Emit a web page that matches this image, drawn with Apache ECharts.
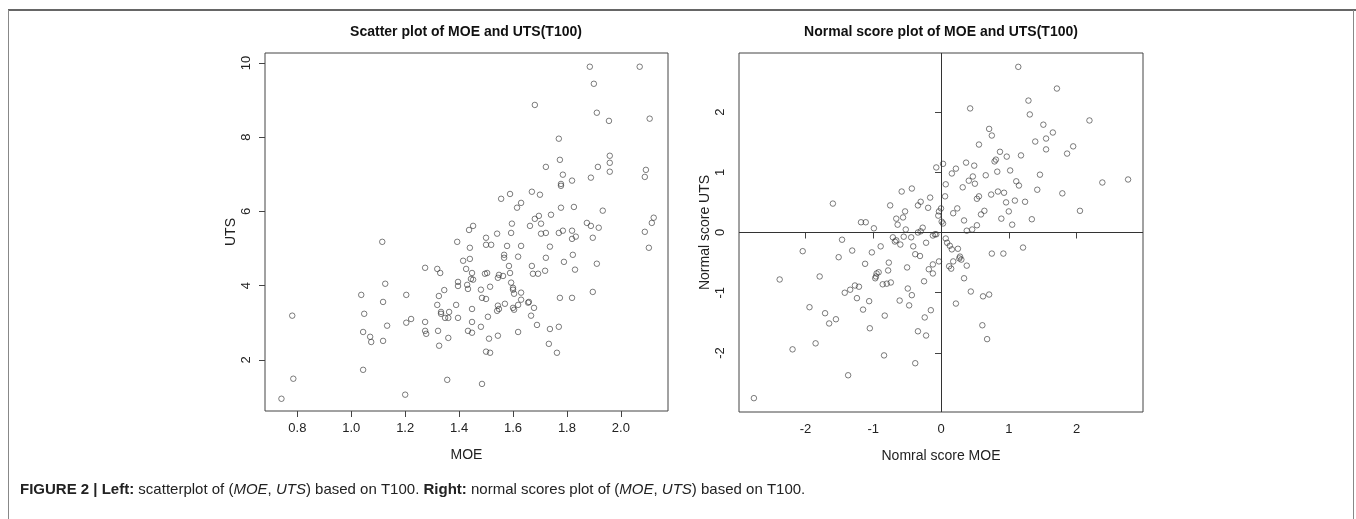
<!DOCTYPE html>
<html>
<head>
<meta charset="utf-8">
<script src="https://cdn.jsdelivr.net/npm/echarts@6/dist/echarts.min.js"></script>
<style>
html,body{margin:0;padding:0;background:#fff;}
#c{width:1356px;height:519px;}
</style>
</head>
<body>
<div id="c"></div>
<script>
// Left panel: scatter of MOE vs UTS (T100)
const scatterPoints = [
[1.115,5.18],[1.393,5.18],[1.274,4.48],[1.319,4.45],[1.33,4.34],[1.396,4.10],[1.396,3.99],[1.126,4.05],[1.037,3.75],[1.204,3.75],[1.118,3.56],[1.345,3.88],[1.325,3.72],[1.319,3.48],[1.389,3.48],[1.363,3.29],[1.333,3.29],[1.333,3.24],[1.348,3.13],[1.36,3.13],[1.396,3.13],[1.048,3.24],[0.781,3.19],[1.222,3.10],[1.204,3.00],[1.274,3.02],[1.133,2.92],[1.044,2.75],[1.274,2.78],[1.278,2.70],[1.322,2.78],[1.07,2.62],[1.074,2.48],[1.118,2.51],[1.36,2.59],[1.326,2.38],[1.044,1.73],[0.785,1.49],[1.356,1.46],[1.2,1.06],[0.741,0.95],
[1.885,9.90],[2.07,9.90],[1.9,9.44],[1.681,8.87],[1.911,8.66],[1.956,8.44],[2.107,8.50],[1.77,7.96],[1.774,7.39],[1.959,7.50],[1.959,7.31],[1.722,7.20],[1.915,7.20],[1.959,7.07],[2.093,7.12],[2.089,6.93],[1.785,6.99],[1.819,6.83],[1.889,6.91],[1.778,6.74],[1.778,6.69],[1.67,6.53],[1.70,6.45],[1.589,6.47],[1.556,6.34],[1.63,6.23],[1.615,6.10],[1.778,6.10],[1.826,6.12],[1.933,6.02],[1.741,5.91],[1.696,5.88],[1.681,5.80],[1.596,5.67],[1.663,5.61],[1.704,5.67],[1.874,5.69],[1.889,5.61],[1.918,5.56],[2.122,5.83],[2.115,5.69],[1.437,5.50],[1.452,5.61],[1.541,5.40],[1.593,5.42],[1.704,5.40],[1.722,5.42],[1.77,5.42],[1.785,5.48],[1.819,5.48],[1.833,5.32],[1.819,5.26],[1.5,5.29],[1.5,5.10],[1.519,5.10],[1.44,5.02],[1.578,5.07],[1.63,5.07],[1.737,5.05],[1.896,5.29],[2.089,5.45],[2.104,5.02],
[1.415,4.67],[1.44,4.72],[1.567,4.83],[1.567,4.75],[1.619,4.78],[1.722,4.75],[1.789,4.64],[1.822,4.83],[1.911,4.59],[1.426,4.45],[1.585,4.53],[1.67,4.53],[1.719,4.40],[1.83,4.43],[1.448,4.34],[1.496,4.32],[1.504,4.34],[1.548,4.29],[1.563,4.26],[1.589,4.34],[1.674,4.32],[1.693,4.32],[1.544,4.21],[1.444,4.18],[1.452,4.16],[1.43,4.02],[1.433,3.91],[1.481,3.89],[1.515,3.97],[1.593,4.08],[1.60,3.94],[1.60,3.89],[1.63,3.81],[1.604,3.78],[1.896,3.83],[1.774,3.67],[1.819,3.67],[1.485,3.67],[1.50,3.64],[1.448,3.37],[1.544,3.46],[1.548,3.37],[1.541,3.32],[1.57,3.51],[1.60,3.40],[1.604,3.35],[1.619,3.48],[1.63,3.62],[1.656,3.54],[1.659,3.56],[1.678,3.40],[1.507,3.16],[1.667,3.19],[1.448,3.02],[1.481,2.89],[1.689,2.94],[1.737,2.83],[1.77,2.89],[1.433,2.78],[1.448,2.73],[1.544,2.65],[1.619,2.75],[1.511,2.57],[1.733,2.43],[1.50,2.22],[1.515,2.19],[1.763,2.19],[1.485,1.35]
];
// Right panel: normal scores of MOE vs UTS
const normalPoints = [
[-1.595,0.48],[-1.18,0.17],[-1.11,0.17],[-0.99,0.07],[-0.75,0.45],[-0.58,0.68],[-0.43,0.73],[-0.66,0.23],[-0.56,0.25],[-0.53,0.35],[-0.64,0.13],[-0.52,0.05],[-0.34,0.45],[-0.30,0.51],[-0.16,0.58],[-0.19,0.41],[-0.07,1.08],[-0.04,0.28],[-0.03,0.35],[-0.34,0.0],[-0.30,0.02],[-0.27,0.08],[-0.12,-0.05],[-0.07,-0.03],
[-1.46,-0.12],[-0.71,-0.08],[-0.66,-0.13],[-0.68,-0.15],[-0.60,-0.20],[-0.55,-0.07],[-0.44,-0.08],[-0.41,-0.23],[-0.22,-0.17],[-2.04,-0.31],[-1.31,-0.30],[-1.02,-0.33],[-0.89,-0.23],[-1.51,-0.41],[-0.38,-0.36],[-0.31,-0.39],[-1.12,-0.52],[-0.77,-0.50],[-0.03,-0.48],[-0.12,-0.53],[-0.18,-0.61],[-0.12,-0.68],[-0.50,-0.58],[-0.78,-0.63],[-0.92,-0.66],[-0.95,-0.68],[-0.96,-0.73],[-0.97,-0.76],[-2.38,-0.78],[-1.79,-0.73],[-0.86,-0.86],[-0.80,-0.85],[-0.74,-0.83],[-0.25,-0.81],[-1.27,-0.88],[-1.21,-0.90],[-1.34,-0.95],[-1.42,-1.00],[-0.49,-0.93],[-0.43,-1.04],[-1.24,-1.09],[-1.06,-1.14],[-0.61,-1.13],[-0.47,-1.21],[-1.94,-1.24],[-1.15,-1.28],[-0.15,-1.29],[-1.71,-1.34],[-0.83,-1.38],[-0.24,-1.41],[-1.55,-1.44],[-1.65,-1.51],[-1.05,-1.59],[-0.34,-1.64],[-0.22,-1.71],[-1.85,-1.84],[-2.19,-1.94],[-0.84,-2.04],[-0.38,-2.17],[-1.37,-2.37],[-2.76,-2.75],
[1.14,2.75],[1.71,2.39],[1.29,2.19],[0.43,2.06],[1.31,1.96],[2.19,1.86],[1.51,1.79],[0.71,1.72],[0.75,1.61],[1.55,1.56],[1.65,1.66],[1.39,1.51],[0.56,1.46],[1.55,1.38],[1.95,1.43],[1.86,1.31],[1.18,1.28],[0.87,1.34],[0.97,1.26],[0.81,1.21],[0.79,1.18],[0.37,1.16],[0.49,1.11],[0.03,1.14],[0.22,1.06],[0.16,0.98],[1.02,1.03],[0.83,1.01],[0.66,0.95],[0.47,0.93],[0.41,0.86],[1.46,0.96],[1.11,0.85],[1.15,0.78],[0.50,0.81],[0.07,0.80],[0.32,0.75],[2.38,0.83],[2.76,0.88],[1.42,0.71],[0.84,0.68],[0.93,0.66],[0.74,0.63],[1.79,0.65],[0.56,0.60],[0.53,0.56],[0.06,0.60],[1.09,0.53],[1.24,0.51],[0.96,0.50],[0.0,0.40],[0.24,0.40],[0.18,0.32],[0.64,0.36],[0.59,0.30],[1.0,0.35],[0.89,0.23],[1.05,0.13],[1.34,0.22],[2.05,0.36],[0.34,0.20],[0.01,0.18],[0.03,0.15],[0.53,0.12],[0.46,0.05],[0.38,0.03],[-0.09,-0.03],[0.07,-0.10],
[0.09,-0.17],[0.13,-0.22],[0.16,-0.28],[0.25,-0.27],[0.75,-0.35],[0.92,-0.35],[1.21,-0.25],[0.18,-0.48],[0.28,-0.40],[0.30,-0.45],[0.27,-0.43],[0.12,-0.56],[0.15,-0.60],[0.38,-0.55],[0.34,-0.76],[0.44,-0.98],[0.62,-1.06],[0.71,-1.03],[0.22,-1.18],[0.61,-1.54],[0.68,-1.77]
];
const moeTicks = [0.8, 1.0, 1.2, 1.4, 1.6, 1.8, 2.0];
const utsTicks = [2, 4, 6, 8, 10];
const nsTicks = [-2, -1, 0, 1, 2];

const FONT = 'Liberation Sans, Arial, sans-serif';
const chart = echarts.init(document.getElementById('c'), null, {renderer: 'canvas'});

function axisCommon(ticks, fmt, isY) {
  return {
    type: 'value',
    axisLine: {show: false},
    splitLine: {show: false},
    axisTick: {show: true, inside: false, length: 6, customValues: ticks, lineStyle: {color: '#444', width: 1}},
    axisLabel: {show: true, customValues: ticks, formatter: fmt, color: '#222', fontSize: 13, fontFamily: FONT,
      margin: isY ? 12 : 11, rotate: isY ? 90 : 0},
    nameLocation: 'middle',
    nameTextStyle: {color: '#222', fontSize: 14, fontFamily: FONT}
  };
}

const pointStyle = {color: 'rgba(0,0,0,0)', borderColor: '#333', borderWidth: 0.8};

chart.setOption({
  animation: false,
  grid: [
    {left: 265, top: 53, width: 403, height: 358, show: true, borderColor: '#444', borderWidth: 1, backgroundColor: 'transparent'},
    {left: 739, top: 53, width: 404, height: 359, show: true, borderColor: '#444', borderWidth: 1, backgroundColor: 'transparent'}
  ],
  xAxis: [
    Object.assign(axisCommon(moeTicks, v => Number(v).toFixed(1), false), {gridIndex: 0, min: 0.68, max: 2.175, name: 'MOE', nameGap: 37}),
    Object.assign(axisCommon(nsTicks, v => String(v), false), {gridIndex: 1, min: -2.98, max: 2.98, name: 'Nomral score MOE', nameGap: 37})
  ],
  yAxis: [
    Object.assign(axisCommon(utsTicks, v => String(v), true), {gridIndex: 0, min: 0.62, max: 10.27, name: 'UTS', nameGap: 27}),
    Object.assign(axisCommon(nsTicks, v => String(v), true), {gridIndex: 1, min: -2.98, max: 2.98, name: 'Normal score UTS', nameGap: 27})
  ],
  series: [
    {type: 'scatter', xAxisIndex: 0, yAxisIndex: 0, data: scatterPoints, symbol: 'circle', symbolSize: 5.5, itemStyle: pointStyle, silent: true},
    {type: 'scatter', xAxisIndex: 1, yAxisIndex: 1, data: normalPoints, symbol: 'circle', symbolSize: 5.5, itemStyle: pointStyle, silent: true,
      markLine: {silent: true, symbol: ['none', 'none'], label: {show: false},
        lineStyle: {color: '#333', width: 1, type: 'solid'},
        data: [{xAxis: 0}, {yAxis: 0}]}}
  ],
  graphic: [
    {type: 'line', shape: {x1: 8, y1: 10, x2: 1356, y2: 10}, style: {stroke: '#333', lineWidth: 1.5}, silent: true},
    {type: 'line', shape: {x1: 8.5, y1: 10, x2: 8.5, y2: 519}, style: {stroke: '#888', lineWidth: 1}, silent: true},
    {type: 'line', shape: {x1: 1353.5, y1: 10, x2: 1353.5, y2: 519}, style: {stroke: '#888', lineWidth: 1}, silent: true},
    {type: 'text', x: 466, y: 32, style: {text: 'Scatter plot of MOE and UTS(T100)', fill: '#111', font: 'bold 14px ' + FONT, textAlign: 'center', textVerticalAlign: 'middle'}, silent: true},
    {type: 'text', x: 941, y: 32, style: {text: 'Normal score plot of MOE and UTS(T100)', fill: '#111', font: 'bold 14px ' + FONT, textAlign: 'center', textVerticalAlign: 'middle'}, silent: true},
    {type: 'text', x: 20, y: 490, silent: true, style: {
      text: '{b|FIGURE 2 | Left:}{r| scatterplot of (}{i|MOE}{r|, }{i|UTS}{r|) based on T100. }{b|Right:}{r| normal scores plot of (}{i|MOE}{r|, }{i|UTS}{r|) based on T100.}',
      textVerticalAlign: 'middle',
      rich: {
        b: {fontFamily: FONT, fontSize: 15, fontWeight: 'bold', fill: '#222', color: '#222'},
        r: {fontFamily: FONT, fontSize: 15, fill: '#222', color: '#222'},
        i: {fontFamily: FONT, fontSize: 15, fontStyle: 'italic', fill: '#222', color: '#222'}
      }
    }}
  ]
});
</script>
</body>
</html>
